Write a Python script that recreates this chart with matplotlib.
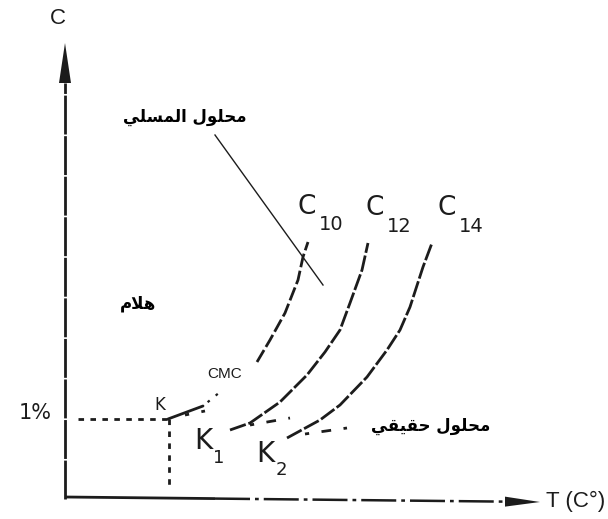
import matplotlib
matplotlib.use("Agg")
import matplotlib.pyplot as plt

# ---- Krafft-point diagram: concentration C vs temperature T (schematic units) ----

# solubility / micelle curves for the C10, C12 and C14 surfactants
c10_T = [103, 138, 155, 192, 205, 220, 233, 238, 243]
c10_C = [80, 93, 107, 137, 159, 186, 219, 242, 257]
c12_T = [165, 185, 215, 242, 260, 275, 285, 297, 303]
c12_C = [69, 76, 97, 124, 147, 169, 196, 229, 256]
c14_T = [222, 255, 275, 302, 322, 335, 345, 358, 367]
c14_C = [61, 79, 94, 122, 149, 169, 192, 232, 256]

# short CMC branches leaving each Krafft point
cmc10_T, cmc10_C = [120, 140], [84, 88]
cmc12_T, cmc12_C = [185, 225], [74, 81]
cmc14_T, cmc14_C = [240, 282], [65, 71]

# Krafft point K at 1 %
k_T, k_C = 103, 80
one_pct_start_T = 13

# axis extents
T_max, C_max = 475, 456
T_axis_C = [2, -3]

# leader line to the micellar-solution label
leader_T, leader_C = [150, 258], [364, 214]

series_names = ["10", "12", "14"]
series_label_T = [242, 310, 382]
series_label_C = [292, 291, 291]

# Arabic labels (logical order)
label_micelle = "محلول المسلي"
label_gel = "هلام"
label_true = "محلول حقيقي"

INK = "#1c1c1c"

# ---- minimal Arabic shaping (presentation forms) for left-to-right rendering ----
FORMS = {
    "ا": (0xFE8D, 0xFE8E, None, None),
    "ح": (0xFEA1, 0xFEA2, 0xFEA3, 0xFEA4),
    "س": (0xFEB1, 0xFEB2, 0xFEB3, 0xFEB4),
    "ق": (0xFED5, 0xFED6, 0xFED7, 0xFED8),
    "ل": (0xFEDD, 0xFEDE, 0xFEDF, 0xFEE0),
    "م": (0xFEE1, 0xFEE2, 0xFEE3, 0xFEE4),
    "ه": (0xFEE9, 0xFEEA, 0xFEEB, 0xFEEC),
    "و": (0xFEED, 0xFEEE, None, None),
    "ي": (0xFEF1, 0xFEF2, 0xFEF3, 0xFEF4),
    "لا": (0xFEFB, 0xFEFC, None, None),
}


def shape_arabic(text):
    tokens = []
    i = 0
    while i < len(text):
        if text[i] == "ل" and i + 1 < len(text) and text[i + 1] == "ا":
            tokens.append("لا")
            i += 2
        else:
            tokens.append(text[i])
            i += 1
    out = []
    for j, tok in enumerate(tokens):
        if tok not in FORMS:
            out.append(tok)
            continue
        iso, fin, ini, med = FORMS[tok]
        prev = tokens[j - 1] if j > 0 else None
        nxt = tokens[j + 1] if j + 1 < len(tokens) else None
        join_prev = prev in FORMS and FORMS[prev][2] is not None
        join_next = ini is not None and nxt in FORMS
        if join_prev and join_next:
            cp = med
        elif join_prev:
            cp = fin
        elif join_next:
            cp = ini
        else:
            cp = iso
        out.append(chr(cp))
    return "".join(reversed(out))


fig = plt.figure(figsize=(6.08, 5.19), dpi=100)
ax = fig.add_axes([0, 0, 1, 1])
ax.set_xlim(-65, 543)
ax.set_ylim(-20, 499)
ax.axis("off")

# axes with arrow heads
head_len_y, head_half_y = 40, 6
ax.plot([0, 0], [0, C_max - head_len_y], color=INK, lw=2.0,
        linestyle=(0, (14, 0.6)), solid_capstyle="butt")
ax.fill([-head_half_y, head_half_y, 0], [C_max - head_len_y] * 2 + [C_max],
        color=INK, lw=0)

head_len_x, head_half_x = 35, 5
slope = (T_axis_C[1] - T_axis_C[0]) / T_max
split_T = 150
ax.plot([0, split_T], [T_axis_C[0], T_axis_C[0] + slope * split_T],
        color=INK, lw=2.0, solid_capstyle="butt")
base_T = T_max - head_len_x
ax.plot([split_T, base_T],
        [T_axis_C[0] + slope * split_T, T_axis_C[0] + slope * base_T],
        color=INK, lw=1.8, linestyle=(0, (14, 2, 1.5, 2)))
yb = T_axis_C[0] + slope * base_T
ax.fill([base_T, base_T, T_max], [yb - head_half_x, yb + head_half_x, T_axis_C[1]],
        color=INK, lw=0)

# 1 % guide lines through K
ax.plot([one_pct_start_T, k_T], [k_C, k_C], color=INK, lw=2.0,
        linestyle=(0, (2.0, 2.3)))
ax.plot([k_T + 1, k_T + 1], [k_C, 11], color=INK, lw=2.0,
        linestyle=(0, (2.0, 2.3)))

# C10: solid near K, a few faint dots, a gap, then dashed
ax.plot(c10_T[:2], c10_C[:2], color=INK, lw=2.0, solid_capstyle="round")
ax.plot(c10_T[1:3], c10_C[1:3], color=INK, lw=1.6, linestyle=(2, (1.2, 3.5)))
ax.plot(c10_T[3:], c10_C[3:], color=INK, lw=2.0, linestyle=(0, (5, 1.3)))
ax.plot(c12_T, c12_C, color=INK, lw=2.0, linestyle=(0, (6, 1.0)))
ax.plot(c14_T, c14_C, color=INK, lw=2.0, linestyle=(0, (6, 1.0)))

for tt, cc in [(cmc10_T, cmc10_C), (cmc12_T, cmc12_C), (cmc14_T, cmc14_C)]:
    ax.plot(tt, cc, color=INK, lw=2.0, linestyle=(2, (3.5, 4.5)))

# leader line
ax.plot(leader_T, leader_C, color=INK, lw=1.0)

# text
dv = ["DejaVu Sans"]
ax.text(-7, 481, "C", fontsize=16, family=["Liberation Sans"], color=INK,
        ha="center", va="center")
ax.text(481, -2, "T (C°)", fontsize=16, family=["Liberation Sans"], color=INK,
        ha="left", va="center")
ax.text(-30, 86, "1%", fontsize=15, family=dv, color=INK, ha="center",
        va="center")
ax.text(95, 94, "K", fontsize=12, family=dv, color=INK, ha="center",
        va="center")
ax.text(160, 125, "CMC", fontsize=11, family=["Liberation Sans"], color=INK,
        ha="center", va="center")
ax.text(138, 58, "K", fontsize=20, family=dv, color=INK, ha="center",
        va="center")
ax.text(154, 41, "1", fontsize=13, family=dv, color=INK, ha="center",
        va="center")
ax.text(200, 45, "K", fontsize=20, family=dv, color=INK, ha="center",
        va="center")
ax.text(216, 29, "2", fontsize=13, family=dv, color=INK, ha="center",
        va="center")

for name, tx, cy in zip(series_names, series_label_T, series_label_C):
    ax.text(tx, cy, "C", fontsize=19, family=dv, color=INK, ha="center",
            va="center")
    ax.text(tx + 24, cy - 18, name, fontsize=14, family=dv, color=INK,
            ha="center", va="center")

ax.text(120, 382, shape_arabic(label_micelle), fontsize=12, family=dv,
        weight="bold", color="black", ha="center", va="center")
ax.text(73, 195, shape_arabic(label_gel), fontsize=12, family=dv,
        weight="bold", color="black", ha="center", va="center")
ax.text(366, 73, shape_arabic(label_true), fontsize=12, family=dv,
        weight="bold", color="black", ha="center", va="center")

fig.savefig("out.png", dpi=100, facecolor="white")
